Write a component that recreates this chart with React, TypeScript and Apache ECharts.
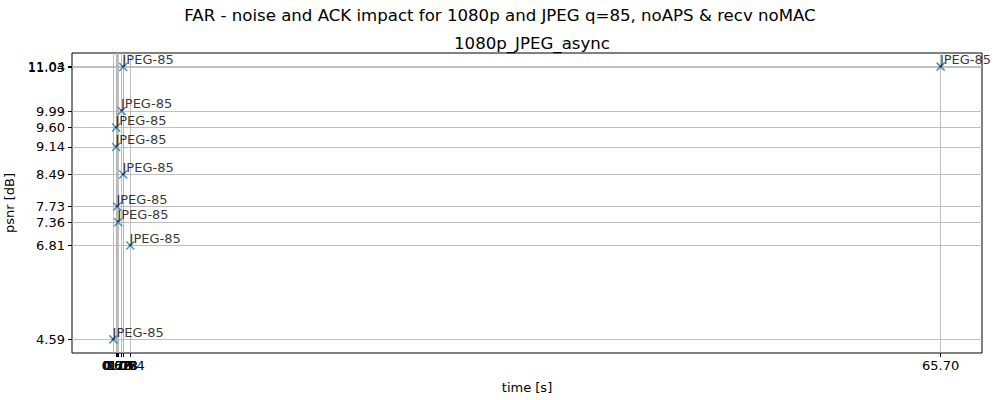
import React, { useEffect, useRef } from "react";
import * as echarts from "echarts";

const timeValues = [0.40, 0.62, 0.62, 0.70, 0.78, 1.06, 1.18, 1.18, 1.74, 65.70];
const psnrValues = [4.59, 9.60, 9.14, 7.73, 7.36, 9.99, 11.03, 8.49, 6.81, 11.04];
const pointLabels = ["JPEG-85", "JPEG-85", "JPEG-85", "JPEG-85", "JPEG-85", "JPEG-85", "JPEG-85", "JPEG-85", "JPEG-85", "JPEG-85"];

const suptitle = "FAR - noise and ACK impact for 1080p and JPEG q=85, noAPS & recv noMAC";
const subtitle = "1080p_JPEG_async";

function padded(vals: number[]) {
  const lo = Math.min(...vals);
  const hi = Math.max(...vals);
  const m = (hi - lo) * 0.05;
  return [lo - m, hi + m];
}

export default function App() {
  const ref = useRef<HTMLDivElement>(null);
  useEffect(() => {
    if (!ref.current) return;
    const chart = echarts.init(ref.current, null, { renderer: "svg" });
    const [xmin, xmax] = padded(timeValues);
    const [ymin, ymax] = padded(psnrValues);
    const font = "DejaVu Sans";
    const gridLine = { color: "#b0b0b0", width: 0.8, type: "solid" as const };
    chart.setOption({
      animation: false,
      backgroundColor: "#fff",
      textStyle: { fontFamily: font },
      title: [
        { text: suptitle, left: "center", top: 2, textStyle: { fontFamily: font, fontSize: 16.6, fontWeight: "normal", color: "#000" } },
        { text: subtitle, left: 527, textAlign: "center", top: 30, textStyle: { fontFamily: font, fontSize: 16.6, fontWeight: "normal", color: "#000" } },
      ],
      grid: { left: 72, right: 18, top: 53, bottom: 47, show: true, borderColor: "#000", borderWidth: 1, backgroundColor: "transparent", outerBoundsMode: "none", containLabel: false },
      xAxis: {
        type: "value",
        min: xmin,
        max: xmax,
        name: "time [s]",
        nameLocation: "middle",
        nameGap: 28,
        nameTextStyle: { fontFamily: font, fontSize: 13, color: "#000" },
        axisLine: { show: false, onZero: false },
        splitLine: { show: false },
        axisTick: { show: true, customValues: timeValues, length: 4, lineStyle: { color: "#000" } },
        axisLabel: {
          customValues: timeValues,
          formatter: (v: number) => v.toFixed(2),
          fontFamily: font,
          fontSize: 13,
          color: "#000",
          margin: 6,
        },
      },
      yAxis: {
        type: "value",
        min: ymin,
        max: ymax,
        name: "psnr [dB]",
        nameLocation: "middle",
        nameGap: 56,
        nameRotate: 90,
        nameTextStyle: { fontFamily: font, fontSize: 13, color: "#000" },
        axisLine: { show: false, onZero: false },
        splitLine: { show: false },
        axisTick: { show: true, customValues: psnrValues, length: 4, lineStyle: { color: "#000" } },
        axisLabel: {
          customValues: psnrValues,
          formatter: (v: number) => v.toFixed(2),
          fontFamily: font,
          fontSize: 13,
          color: "#000",
          margin: 7,
        },
      },
      series: [
        {
          type: "scatter",
          data: timeValues.map((t, i) => [t, psnrValues[i], pointLabels[i]]),
          symbol: "path://M0,0L10,10M10,0L0,10",
          symbolSize: 8,
          itemStyle: { color: "transparent", borderColor: "#1f77b4", borderWidth: 1.5 },
          label: {
            show: true,
            formatter: (p: any) => p.data[2],
            position: [4, 4],
            align: "left",
            verticalAlign: "bottom",
            fontFamily: font,
            fontSize: 13,
            color: "#000",
          },
          z: 5,
          markLine: {
            silent: true,
            symbol: "none",
            label: { show: false },
            lineStyle: gridLine,
            z: 1,
            data: [
              ...timeValues.map((v) => ({ xAxis: v })),
              ...psnrValues.map((v) => ({ yAxis: v })),
            ],
          },
        },
      ],
    });
    return () => chart.dispose();
  }, []);
  return <div ref={ref} style={{ position: "absolute", left: 0, top: 0, width: 1000, height: 400 }} />;
}
